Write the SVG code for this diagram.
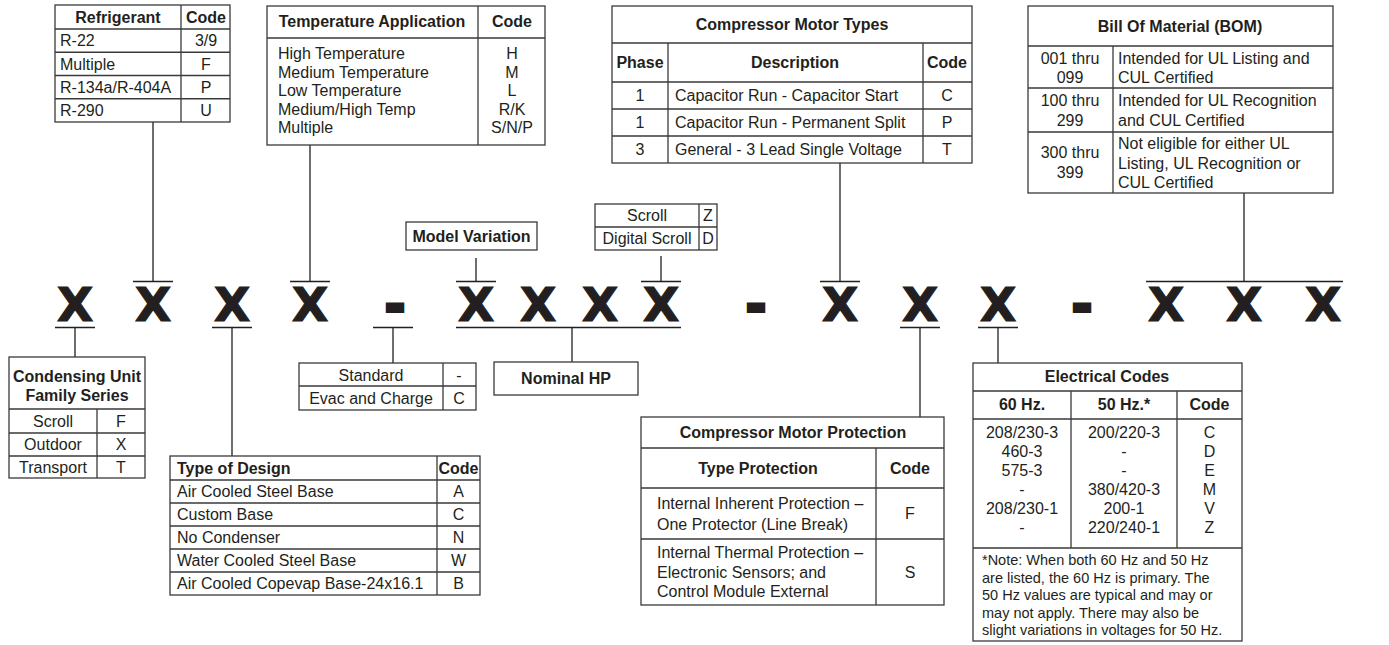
<svg xmlns="http://www.w3.org/2000/svg" width="1389" height="645" viewBox="0 0 1389 645">
<style>
text{font-family:"Liberation Sans",Arial,sans-serif;font-size:16px;fill:#231f20}
.b{font-weight:bold}
.c{text-anchor:middle}
.s{font-size:14.5px}
.box{fill:#fff;stroke:#3a3a3a;stroke-width:1.3}
.grid{fill:none;stroke:#3a3a3a;stroke-width:1.3}
.ln{fill:none;stroke:#231f20;stroke-width:1.3}
.X{font-family:"DejaVu Sans",sans-serif;font-weight:bold;font-size:47px;text-anchor:middle;fill:#231f20;stroke:#231f20;stroke-width:1.2}
.D{font-family:"DejaVu Sans",sans-serif;font-weight:bold;font-size:47px;text-anchor:middle;fill:#231f20;stroke:#231f20;stroke-width:4}
</style>
<rect width="1389" height="645" fill="#fff"/>

<g id="model-code">
<text class="X" x="75" y="321">X</text>
<text class="X" x="153" y="321">X</text>
<text class="X" x="232" y="321">X</text>
<text class="X" x="310" y="321">X</text>
<text class="D" x="395" y="321">-</text>
<text class="X" x="476" y="321">X</text>
<text class="X" x="538" y="321">X</text>
<text class="X" x="600" y="321">X</text>
<text class="X" x="661" y="321">X</text>
<text class="D" x="756" y="321">-</text>
<text class="X" x="840" y="321">X</text>
<text class="X" x="920" y="321">X</text>
<text class="X" x="998" y="321">X</text>
<text class="D" x="1082" y="321">-</text>
<text class="X" x="1166" y="321">X</text>
<text class="X" x="1244" y="321">X</text>
<text class="X" x="1323" y="321">X</text>
</g>

<g id="connectors">
<path class="ln" d="M133 281.5H173M290 281.5H330M456 281.5H496M641 281.5H681M820 281.5H860M1146 281.5H1343"/>
<path class="ln" d="M55 327.5H95M212 327.5H252M373 327.5H413M456 327.5H681M900 327.5H940M978 327.5H1018"/>
<path class="ln" d="M153 122V281.5M310 145V281.5M476 258V281.5M661 256V281.5M840 163V281.5M1244 193V281.5"/>
<path class="ln" d="M75 327.5V357M232 327.5V456M393 327.5V363M572 327.5V362M920 327.5V417M998 327.5V363"/>
</g>

<g id="refrigerant">
<rect class="box" x="55" y="5" width="175" height="117"/>
<path class="grid" d="M181 5V122M55 29H230M55 52.25H230M55 75.5H230M55 98.75H230"/>
<text class="b c" x="118" y="23">Refrigerant</text>
<text class="b c" x="206" y="23">Code</text>
<text x="60" y="46">R-22</text><text class="c" x="206" y="46">3/9</text>
<text x="60" y="70">Multiple</text><text class="c" x="206" y="70">F</text>
<text x="60" y="93">R-134a/R-404A</text><text class="c" x="206" y="93">P</text>
<text x="60" y="116">R-290</text><text class="c" x="206" y="116">U</text>
</g>

<g id="temperature-application">
<rect class="box" x="267" y="6" width="278" height="139"/>
<path class="grid" d="M478 6V145M267 38H545"/>
<text class="b c" x="372" y="27">Temperature Application</text>
<text class="b c" x="512" y="27">Code</text>
<text x="278" y="59">High Temperature</text><text class="c" x="512" y="59">H</text>
<text x="278" y="77.5">Medium Temperature</text><text class="c" x="512" y="77.5">M</text>
<text x="278" y="96">Low Temperature</text><text class="c" x="512" y="96">L</text>
<text x="278" y="114.5">Medium/High Temp</text><text class="c" x="512" y="114.5">R/K</text>
<text x="278" y="133">Multiple</text><text class="c" x="512" y="133">S/N/P</text>
</g>

<g id="compressor-motor-types">
<rect class="box" x="612" y="6" width="360" height="157"/>
<path class="grid" d="M612 43H972M612 82H972M612 109H972M612 136H972M668 43V163M923 43V163"/>
<text class="b c" x="792" y="30">Compressor Motor Types</text>
<text class="b c" x="640" y="68">Phase</text>
<text class="b c" x="795" y="68">Description</text>
<text class="b c" x="947" y="68">Code</text>
<text class="c" x="640" y="101">1</text><text x="675" y="101">Capacitor Run - Capacitor Start</text><text class="c" x="947" y="101">C</text>
<text class="c" x="640" y="128">1</text><text x="675" y="128">Capacitor Run - Permanent Split</text><text class="c" x="947" y="128">P</text>
<text class="c" x="640" y="155">3</text><text x="675" y="155">General - 3 Lead Single Voltage</text><text class="c" x="947" y="155">T</text>
</g>

<g id="bill-of-material">
<rect class="box" x="1028" y="6" width="305" height="187"/>
<path class="grid" d="M1028 46H1333M1028 88H1333M1028 132H1333M1113 46V193"/>
<text class="b c" x="1180" y="32">Bill Of Material (BOM)</text>
<text class="c" x="1070" y="64">001 thru</text><text class="c" x="1070" y="83">099</text>
<text class="c" x="1070" y="106">100 thru</text><text class="c" x="1070" y="126">299</text>
<text class="c" x="1070" y="158">300 thru</text><text class="c" x="1070" y="178">399</text>
<text x="1118" y="64">Intended for UL Listing and</text>
<text x="1118" y="83">CUL Certified</text>
<text x="1118" y="106">Intended for UL Recognition</text>
<text x="1118" y="126">and CUL Certified</text>
<text x="1118" y="149">Not eligible for either UL</text>
<text x="1118" y="169">Listing, UL Recognition or</text>
<text x="1118" y="188">CUL Certified</text>
</g>

<g id="scroll-type">
<rect class="box" x="595" y="204" width="122" height="46"/>
<path class="grid" d="M595 227H717M699 204V250"/>
<text class="c" x="647" y="221">Scroll</text><text class="c" x="708" y="221">Z</text>
<text class="c" x="647" y="244">Digital Scroll</text><text class="c" x="708" y="244">D</text>
</g>

<g id="model-variation">
<rect class="box" x="406" y="222" width="131" height="28"/>
<text class="b c" x="471.5" y="242">Model Variation</text>
</g>

<g id="condensing-unit">
<rect class="box" x="9" y="357" width="136" height="121"/>
<path class="grid" d="M9 409H145M9 433H145M9 456H145M97 409V478"/>
<text class="b c" x="77" y="382">Condensing Unit</text>
<text class="b c" x="77" y="401">Family Series</text>
<text class="c" x="53" y="427">Scroll</text><text class="c" x="121" y="427">F</text>
<text class="c" x="53" y="450">Outdoor</text><text class="c" x="121" y="450">X</text>
<text class="c" x="53" y="473">Transport</text><text class="c" x="121" y="473">T</text>
</g>

<g id="standard">
<rect class="box" x="299" y="363" width="177" height="47"/>
<path class="grid" d="M299 386H476M443 363V410"/>
<text class="c" x="371" y="381">Standard</text><text class="c" x="459" y="381">-</text>
<text class="c" x="371" y="404">Evac and Charge</text><text class="c" x="459" y="404">C</text>
</g>

<g id="nominal-hp">
<rect class="box" x="494" y="362" width="144" height="33"/>
<text class="b c" x="566" y="384">Nominal HP</text>
</g>

<g id="type-of-design">
<rect class="box" x="170" y="456" width="310" height="139"/>
<path class="grid" d="M170 480H480M170 503H480M170 526H480M170 549H480M170 572H480M437 456V595"/>
<text class="b" x="177" y="474">Type of Design</text>
<text class="b c" x="458.5" y="474">Code</text>
<text x="177" y="497">Air Cooled Steel Base</text><text class="c" x="458.5" y="497">A</text>
<text x="177" y="520">Custom Base</text><text class="c" x="458.5" y="520">C</text>
<text x="177" y="543">No Condenser</text><text class="c" x="458.5" y="543">N</text>
<text x="177" y="566">Water Cooled Steel Base</text><text class="c" x="458.5" y="566">W</text>
<text x="177" y="589">Air Cooled Copevap Base-24x16.1</text><text class="c" x="458.5" y="589">B</text>
</g>

<g id="compressor-motor-protection">
<rect class="box" x="641" y="417" width="303" height="188"/>
<path class="grid" d="M641 448H944M641 488H944M641 539H944M876 448V605"/>
<text class="b c" x="793" y="438">Compressor Motor Protection</text>
<text class="b c" x="758" y="474">Type Protection</text>
<text class="b c" x="910" y="474">Code</text>
<text x="657" y="509">Internal Inherent Protection –</text>
<text x="657" y="530">One Protector (Line Break)</text>
<text class="c" x="910" y="519">F</text>
<text x="657" y="558">Internal Thermal Protection –</text>
<text x="657" y="578">Electronic Sensors; and</text>
<text x="657" y="597">Control Module External</text>
<text class="c" x="910" y="578">S</text>
</g>

<g id="electrical-codes">
<rect class="box" x="973" y="363" width="269" height="278"/>
<path class="grid" d="M973 391H1242M973 419H1242M973 548H1242M1071 391V548M1177 391V548"/>
<text class="b c" x="1107" y="382">Electrical Codes</text>
<text class="b c" x="1022" y="410">60 Hz.</text>
<text class="b c" x="1124" y="410">50 Hz.*</text>
<text class="b c" x="1209.5" y="410">Code</text>
<text class="c" x="1022" y="438">208/230-3</text><text class="c" x="1124" y="438">200/220-3</text><text class="c" x="1209.5" y="438">C</text>
<text class="c" x="1022" y="457">460-3</text><text class="c" x="1124" y="457">-</text><text class="c" x="1209.5" y="457">D</text>
<text class="c" x="1022" y="476">575-3</text><text class="c" x="1124" y="476">-</text><text class="c" x="1209.5" y="476">E</text>
<text class="c" x="1022" y="495">-</text><text class="c" x="1124" y="495">380/420-3</text><text class="c" x="1209.5" y="495">M</text>
<text class="c" x="1022" y="514">208/230-1</text><text class="c" x="1124" y="514">200-1</text><text class="c" x="1209.5" y="514">V</text>
<text class="c" x="1022" y="533">-</text><text class="c" x="1124" y="533">220/240-1</text><text class="c" x="1209.5" y="533">Z</text>
<text class="s" x="982" y="565">*Note: When both 60 Hz and 50 Hz</text>
<text class="s" x="982" y="583">are listed, the 60 Hz is primary. The</text>
<text class="s" x="982" y="600">50 Hz values are typical and may or</text>
<text class="s" x="982" y="618">may not apply. There may also be</text>
<text class="s" x="982" y="635">slight variations in voltages for 50 Hz.</text>
</g>
</svg>
